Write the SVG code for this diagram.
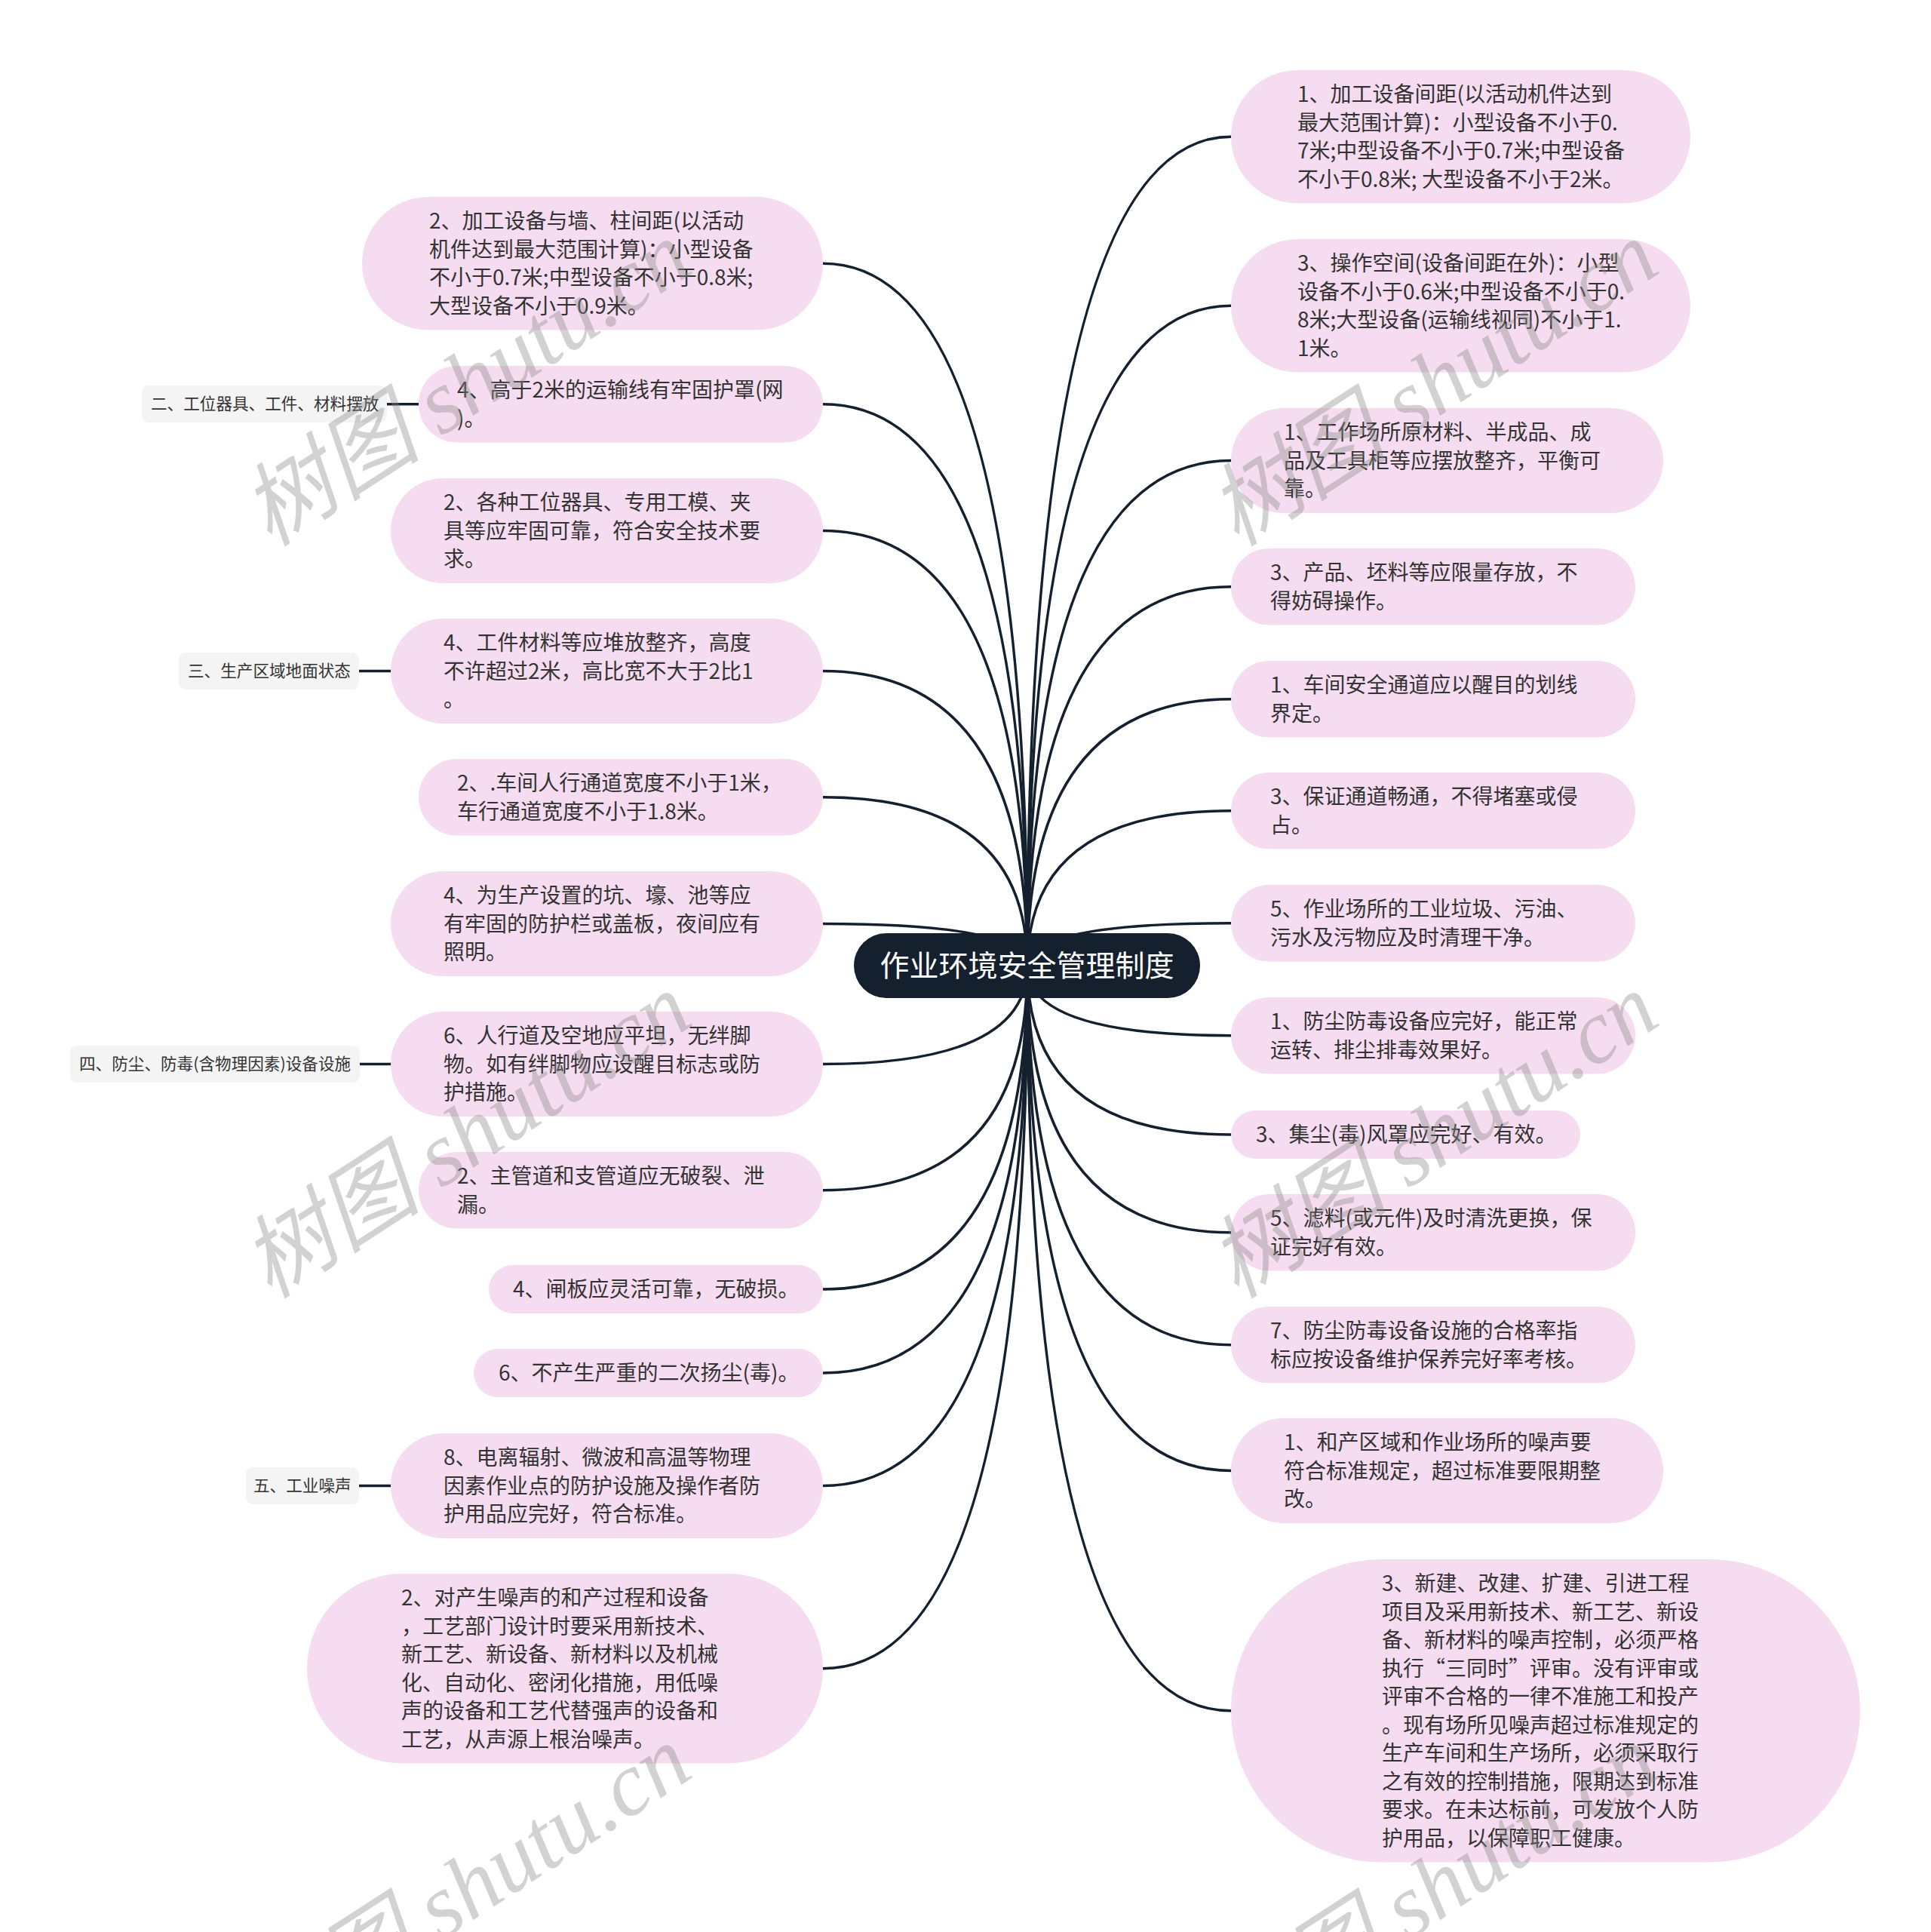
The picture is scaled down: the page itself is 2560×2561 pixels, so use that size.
<svg xmlns="http://www.w3.org/2000/svg" width="2560" height="2561" viewBox="0 0 2560 2561">
<style>
.n rect{fill:#f6dcf0}
.t{font-family:"Noto Sans CJK SC","Noto Sans",sans-serif;font-size:28px;fill:#333}
.lb rect{fill:#f4f4f4}
.lt{font-family:"Noto Sans CJK SC","Noto Sans",sans-serif;font-size:21.6px;fill:#333}
.c path{fill:none;stroke:#15202f;stroke-width:3.5}
.c line{stroke:#15202f;stroke-width:3.5}
.wm{font-family:"Liberation Serif","Noto Sans CJK SC",serif;font-style:italic;font-size:120px;fill:#8a8a8a;opacity:.38}
</style>
<rect width="2560" height="2561" fill="#fff"/>
<g class="c" id="connectors">
<path d="M1362,1281 Q1362,181.25 1632,181.25"/>
<path d="M1362,1281 Q1362,405.25 1632,405.25"/>
<path d="M1362,1281 Q1362,610.5 1632,610.5"/>
<path d="M1362,1281 Q1362,777.75 1632,777.75"/>
<path d="M1362,1281 Q1362,926.75 1632,926.75"/>
<path d="M1362,1281 Q1362,1074.75 1632,1074.75"/>
<path d="M1362,1281 Q1362,1223.75 1632,1223.75"/>
<path d="M1362,1281 Q1362,1372.75 1632,1372.75"/>
<path d="M1362,1281 Q1362,1504 1632,1504"/>
<path d="M1362,1281 Q1362,1633.75 1632,1633.75"/>
<path d="M1362,1281 Q1362,1782.75 1632,1782.75"/>
<path d="M1362,1281 Q1362,1949.5 1632,1949.5"/>
<path d="M1362,1281 Q1362,2267.75 1632,2267.75"/>
<path d="M1362,1281 Q1362,349.25 1091,349.25"/>
<path d="M1362,1281 Q1362,535.75 1091,535.75"/>
<path d="M1362,1281 Q1362,703.5 1091,703.5"/>
<path d="M1362,1281 Q1362,889.5 1091,889.5"/>
<path d="M1362,1281 Q1362,1056.75 1091,1056.75"/>
<path d="M1362,1281 Q1362,1224.5 1091,1224.5"/>
<path d="M1362,1281 Q1362,1410.5 1091,1410.5"/>
<path d="M1362,1281 Q1362,1577.75 1091,1577.75"/>
<path d="M1362,1281 Q1362,1709 1091,1709"/>
<path d="M1362,1281 Q1362,1820 1091,1820"/>
<path d="M1362,1281 Q1362,1969.5 1091,1969.5"/>
<path d="M1362,1281 Q1362,2211.75 1091,2211.75"/>
<line x1="513" y1="535.75" x2="555" y2="535.75"/>
<line x1="476" y1="889.5" x2="518" y2="889.5"/>
<line x1="477" y1="1410.5" x2="518" y2="1410.5"/>
<line x1="476" y1="1969.5" x2="518" y2="1969.5"/>
</g>
<g id="root">
<rect x="1132" y="1237" width="459" height="86" rx="43" fill="#15202f"/>
<text x="1361.5" y="1294" text-anchor="middle" font-family="Noto Sans CJK SC, Noto Sans, sans-serif" font-size="39" fill="#fff">作业环境安全管理制度</text>
</g>
<g class="n" id="r1"><rect x="1632" y="93" width="609" height="176.5" rx="88.25"/>
<text class="t" x="1720" y="135">1、加工设备间距(以活动机件达到</text>
<text class="t" x="1720" y="172.5">最大范围计算)：小型设备不小于0.</text>
<text class="t" x="1720" y="210">7米;中型设备不小于0.7米;中型设备</text>
<text class="t" x="1720" y="247.5">不小于0.8米; 大型设备不小于2米。</text></g>
<g class="n" id="r2"><rect x="1632" y="317" width="609" height="176.5" rx="88.25"/>
<text class="t" x="1720" y="359">3、操作空间(设备间距在外)：小型</text>
<text class="t" x="1720" y="396.5">设备不小于0.6米;中型设备不小于0.</text>
<text class="t" x="1720" y="434">8米;大型设备(运输线视同)不小于1.</text>
<text class="t" x="1720" y="471.5">1米。</text></g>
<g class="n" id="r3"><rect x="1632" y="541" width="573" height="139" rx="69.5"/>
<text class="t" x="1702" y="583">1、工作场所原材料、半成品、成</text>
<text class="t" x="1702" y="620.5">品及工具柜等应摆放整齐，平衡可</text>
<text class="t" x="1702" y="658">靠。</text></g>
<g class="n" id="r4"><rect x="1632" y="727" width="536" height="101.5" rx="50.75"/>
<text class="t" x="1684" y="769">3、产品、坯料等应限量存放，不</text>
<text class="t" x="1684" y="806.5">得妨碍操作。</text></g>
<g class="n" id="r5"><rect x="1632" y="876" width="536" height="101.5" rx="50.75"/>
<text class="t" x="1684" y="918">1、车间安全通道应以醒目的划线</text>
<text class="t" x="1684" y="955.5">界定。</text></g>
<g class="n" id="r6"><rect x="1632" y="1024" width="536" height="101.5" rx="50.75"/>
<text class="t" x="1684" y="1066">3、保证通道畅通，不得堵塞或侵</text>
<text class="t" x="1684" y="1103.5">占。</text></g>
<g class="n" id="r7"><rect x="1632" y="1173" width="536" height="101.5" rx="50.75"/>
<text class="t" x="1684" y="1215">5、作业场所的工业垃圾、污油、</text>
<text class="t" x="1684" y="1252.5">污水及污物应及时清理干净。</text></g>
<g class="n" id="r8"><rect x="1632" y="1322" width="536" height="101.5" rx="50.75"/>
<text class="t" x="1684" y="1364">1、防尘防毒设备应完好，能正常</text>
<text class="t" x="1684" y="1401.5">运转、排尘排毒效果好。</text></g>
<g class="n" id="r9"><rect x="1632" y="1472" width="463" height="64" rx="32"/>
<text class="t" x="1665" y="1514">3、集尘(毒)风罩应完好、有效。</text></g>
<g class="n" id="r10"><rect x="1632" y="1583" width="536" height="101.5" rx="50.75"/>
<text class="t" x="1684" y="1625">5、滤料(或元件)及时清洗更换，保</text>
<text class="t" x="1684" y="1662.5">证完好有效。</text></g>
<g class="n" id="r11"><rect x="1632" y="1732" width="536" height="101.5" rx="50.75"/>
<text class="t" x="1684" y="1774">7、防尘防毒设备设施的合格率指</text>
<text class="t" x="1684" y="1811.5">标应按设备维护保养完好率考核。</text></g>
<g class="n" id="r12"><rect x="1632" y="1880" width="573" height="139" rx="69.5"/>
<text class="t" x="1702" y="1922">1、和产区域和作业场所的噪声要</text>
<text class="t" x="1702" y="1959.5">符合标准规定，超过标准要限期整</text>
<text class="t" x="1702" y="1997">改。</text></g>
<g class="n" id="r13"><rect x="1632" y="2067" width="834" height="401.5" rx="200.75"/>
<text class="t" x="1832" y="2109">3、新建、改建、扩建、引进工程</text>
<text class="t" x="1832" y="2146.5">项目及采用新技术、新工艺、新设</text>
<text class="t" x="1832" y="2184">备、新材料的噪声控制，必须严格</text>
<text class="t" x="1832" y="2221.5">执行“三同时”评审。没有评审或</text>
<text class="t" x="1832" y="2259">评审不合格的一律不准施工和投产</text>
<text class="t" x="1832" y="2296.5">。现有场所见噪声超过标准规定的</text>
<text class="t" x="1832" y="2334">生产车间和生产场所，必须采取行</text>
<text class="t" x="1832" y="2371.5">之有效的控制措施，限期达到标准</text>
<text class="t" x="1832" y="2409">要求。在未达标前，可发放个人防</text>
<text class="t" x="1832" y="2446.5">护用品，以保障职工健康。</text></g>
<g class="n" id="l1"><rect x="480" y="261" width="611" height="176.5" rx="88.25"/>
<text class="t" x="569" y="303">2、加工设备与墙、柱间距(以活动</text>
<text class="t" x="569" y="340.5">机件达到最大范围计算)：小型设备</text>
<text class="t" x="569" y="378">不小于0.7米;中型设备不小于0.8米;</text>
<text class="t" x="569" y="415.5">大型设备不小于0.9米。</text></g>
<g class="n" id="l2"><rect x="555" y="485" width="536" height="101.5" rx="50.75"/>
<text class="t" x="606" y="527">4、高于2米的运输线有牢固护罩(网</text>
<text class="t" x="606" y="564.5">)。</text></g>
<g class="n" id="l3"><rect x="518" y="634" width="573" height="139" rx="69.5"/>
<text class="t" x="588" y="676">2、各种工位器具、专用工模、夹</text>
<text class="t" x="588" y="713.5">具等应牢固可靠，符合安全技术要</text>
<text class="t" x="588" y="751">求。</text></g>
<g class="n" id="l4"><rect x="518" y="820" width="573" height="139" rx="69.5"/>
<text class="t" x="588" y="862">4、工件材料等应堆放整齐，高度</text>
<text class="t" x="588" y="899.5">不许超过2米，高比宽不大于2比1</text>
<text class="t" x="588" y="937">。</text></g>
<g class="n" id="l5"><rect x="555" y="1006" width="536" height="101.5" rx="50.75"/>
<text class="t" x="606" y="1048">2、.车间人行通道宽度不小于1米，</text>
<text class="t" x="606" y="1085.5">车行通道宽度不小于1.8米。</text></g>
<g class="n" id="l6"><rect x="518" y="1155" width="573" height="139" rx="69.5"/>
<text class="t" x="588" y="1197">4、为生产设置的坑、壕、池等应</text>
<text class="t" x="588" y="1234.5">有牢固的防护栏或盖板，夜间应有</text>
<text class="t" x="588" y="1272">照明。</text></g>
<g class="n" id="l7"><rect x="518" y="1341" width="573" height="139" rx="69.5"/>
<text class="t" x="588" y="1383">6、人行道及空地应平坦，无绊脚</text>
<text class="t" x="588" y="1420.5">物。如有绊脚物应设醒目标志或防</text>
<text class="t" x="588" y="1458">护措施。</text></g>
<g class="n" id="l8"><rect x="555" y="1527" width="536" height="101.5" rx="50.75"/>
<text class="t" x="606" y="1569">2、主管道和支管道应无破裂、泄</text>
<text class="t" x="606" y="1606.5">漏。</text></g>
<g class="n" id="l9"><rect x="648" y="1677" width="443" height="64" rx="32"/>
<text class="t" x="680" y="1719">4、闸板应灵活可靠，无破损。</text></g>
<g class="n" id="l10"><rect x="628" y="1788" width="463" height="64" rx="32"/>
<text class="t" x="661" y="1830">6、不产生严重的二次扬尘(毒)。</text></g>
<g class="n" id="l11"><rect x="518" y="1900" width="573" height="139" rx="69.5"/>
<text class="t" x="588" y="1942">8、电离辐射、微波和高温等物理</text>
<text class="t" x="588" y="1979.5">因素作业点的防护设施及操作者防</text>
<text class="t" x="588" y="2017">护用品应完好，符合标准。</text></g>
<g class="n" id="l12"><rect x="407" y="2086" width="684" height="251.5" rx="125.75"/>
<text class="t" x="532" y="2128">2、对产生噪声的和产过程和设备</text>
<text class="t" x="532" y="2165.5">，工艺部门设计时要采用新技术、</text>
<text class="t" x="532" y="2203">新工艺、新设备、新材料以及机械</text>
<text class="t" x="532" y="2240.5">化、自动化、密闭化措施，用低噪</text>
<text class="t" x="532" y="2278">声的设备和工艺代替强声的设备和</text>
<text class="t" x="532" y="2315.5">工艺，从声源上根治噪声。</text></g>
<g class="lb" id="label2"><rect x="188" y="511" width="325" height="49" rx="9"/>
<text class="lt" x="200" y="543">二、工位器具、工件、材料摆放</text></g>
<g class="lb" id="label3"><rect x="237" y="865" width="239" height="49" rx="9"/>
<text class="lt" x="249" y="897">三、生产区域地面状态</text></g>
<g class="lb" id="label4"><rect x="93" y="1386" width="384" height="49" rx="9"/>
<text class="lt" x="105" y="1418">四、防尘、防毒(含物理因素)设备设施</text></g>
<g class="lb" id="label5"><rect x="326" y="1945" width="150" height="49" rx="9"/>
<text class="lt" x="336" y="1977">五、工业噪声</text></g>
<g id="watermarks">
<text class="wm" transform="translate(358,726) rotate(-33)">树图 shutu.cn</text>
<text class="wm" transform="translate(1640,726) rotate(-33)">树图 shutu.cn</text>
<text class="wm" transform="translate(358,1723) rotate(-33)">树图 shutu.cn</text>
<text class="wm" transform="translate(1640,1723) rotate(-33)">树图 shutu.cn</text>
<text class="wm" transform="translate(358,2720) rotate(-33)">树图 shutu.cn</text>
<text class="wm" transform="translate(1640,2720) rotate(-33)">树图 shutu.cn</text>
</g>
</svg>
